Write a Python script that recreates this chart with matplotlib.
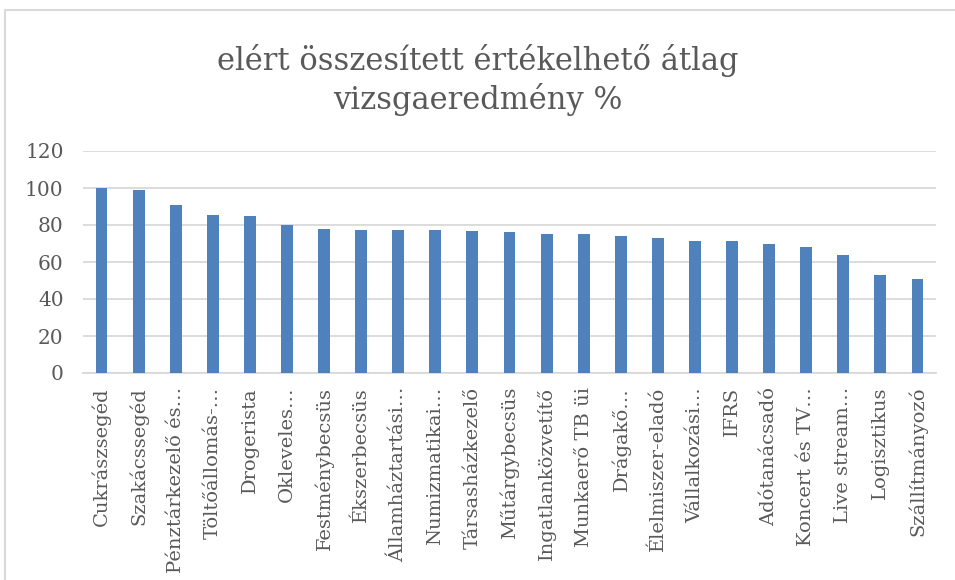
import matplotlib.pyplot as plt
from matplotlib.lines import Line2D

categories = [
    "Cukrászsegéd", "Szakácssegéd", "Pénztárkezelő és…", "Töltőállomás-…",
    "Drogerista", "Okleveles…", "Festménybecsüs", "Ékszerbecsüs",
    "Államháztartási…", "Numizmatikai…", "Társasházkezelő", "Műtárgybecsüs",
    "Ingatlanközvetítő", "Munkaerő TB üi", "Drágakő…", "Élelmiszer-eladó",
    "Vállalkozási…", "IFRS", "Adótanácsadó", "Koncert és TV…",
    "Live stream…", "Logisztikus", "Szállítmányozó",
]
values = [100, 99, 91, 85.5, 85, 80, 78, 77.3, 77.3, 77.3, 77, 76,
          75, 75, 74, 72.8, 71.4, 71.4, 69.6, 68.3, 63.6, 53, 50.6]
yticks = [0, 20, 40, 60, 80, 100, 120]

font = ["DejaVu Serif"]
text_color = "#595959"

fig = plt.figure(figsize=(9.55, 5.8), dpi=100)
ax = fig.add_axes([83 / 955, 1 - 373 / 580, (936 - 83) / 955, (373 - 151) / 580])

x = range(len(categories))
ax.bar(x, values, width=0.32, color="#4F81BD", zorder=3)

ax.set_xlim(-0.5, len(categories) - 0.5)
ax.set_ylim(0, 120)
ax.set_yticks(yticks)
ax.set_yticklabels([str(v) for v in yticks], family=font, fontsize=14.5, color=text_color)
ax.set_xticks(list(x))
ax.set_xticklabels(categories, rotation=90, ha="center", va="top",
                   family=font, fontsize=14, color=text_color)
ax.tick_params(axis="y", length=0, pad=14)
ax.tick_params(axis="x", length=0, pad=10)
ax.grid(axis="y", color="#D9D9D9", linewidth=1.3, zorder=0)
for side in ["left", "right", "top"]:
    ax.spines[side].set_visible(False)
ax.spines["bottom"].set_color("#D9D9D9")
ax.spines["bottom"].set_linewidth(1.3)

fig.text(0.5, 1 - 80 / 580, "elért összesített értékelhető átlag\nvizsgaeredmény %",
         ha="center", va="center", family=font, fontsize=22, color=text_color,
         linespacing=1.2)

# chart frame (left and top edges visible)
fig.add_artist(Line2D([4.5 / 955, 4.5 / 955, 1.0], [0.0, 1 - 10 / 580, 1 - 10 / 580],
                      transform=fig.transFigure, color="#D9D9D9", linewidth=1.5))

fig.savefig("out.png", dpi=100)
